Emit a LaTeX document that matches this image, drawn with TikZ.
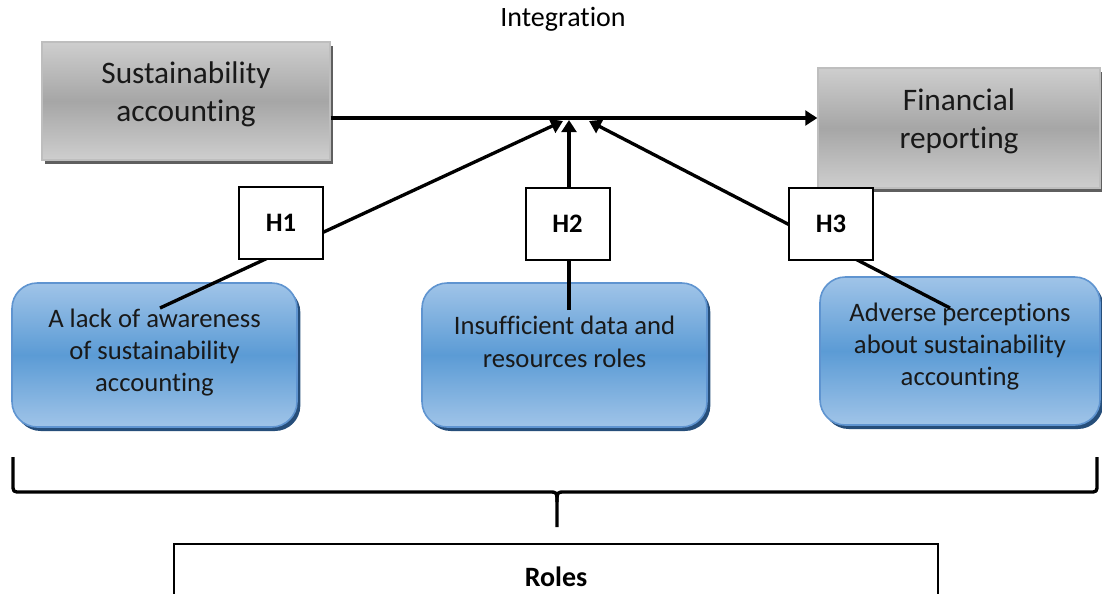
\documentclass[tikz,border=0pt]{standalone}
\usepackage{fontspec}
\setmainfont{Carlito}[RawFeature={-liga;-clig;-calt}]
\usepackage{xcolor}
\definecolor{boxgrey}{RGB}{166,166,166}
\definecolor{lightgrey}{RGB}{206,206,206}
\definecolor{edgegrey}{RGB}{190,190,190}
\definecolor{shadowgrey}{RGB}{95,95,95}
\definecolor{mainblue}{RGB}{91,155,213}
\definecolor{lightblue}{RGB}{160,196,232}
\definecolor{edgeblue}{RGB}{95,148,208}
\definecolor{darkblue}{RGB}{38,78,122}
\usepackage{tikz}
\usetikzlibrary{arrows.meta,shadows}

\begin{document}
\begin{tikzpicture}[x=0.75pt, y=-0.75pt,
    greybox/.style={rectangle, draw=edgegrey, line width=1pt,
                 top color=lightgrey, bottom color=lightgrey, middle color=boxgrey,
                 general shadow={fill=shadowgrey, shadow xshift=2.5pt, shadow yshift=-3pt},
                 inner sep=0pt, align=center, text=black!90, text depth=14pt,
                 font=\fontsize{23.5}{28.5}\selectfont},
    rolebox/.style={rectangle, draw=edgeblue, line width=1.2pt, rounded corners=19pt,
                 top color=lightblue, bottom color=lightblue, middle color=mainblue,
                 general shadow={fill=darkblue, shadow xshift=2.5pt, shadow yshift=-3pt},
                 minimum width=213.75pt, minimum height=108pt,
                 inner sep=0pt, align=center, text=black!90,
                 font=\fontsize{20}{24.2}\selectfont},
    hbox/.style={rectangle, draw=black, line width=1.5pt, fill=white,
                 minimum width=63pt, minimum height=54pt, inner sep=0pt,
                 font=\fontsize{20}{24}\selectfont\bfseries},
    arr/.style={-{Triangle[length=9pt, width=11pt]}, line width=2.5pt},
  ]
    \useasboundingbox (0,0) rectangle (1102,593);

    \node[font=\fontsize{21}{25}\selectfont] (intg) at (563,19) {Integration};

    \node[greybox, minimum width=216pt, minimum height=88.5pt] (sa) at (186,101)
        {Sustainability\\accounting};
    \node[greybox, minimum width=211.5pt, minimum height=90pt] (fr) at (959,128)
        {Financial\\reporting};

    \node[rolebox, text depth=7pt] (aware) at (154.5,355)
        {A lack of awareness\\of sustainability\\accounting};
    \node[rolebox, text depth=20pt] (data) at (564.5,355)
        {Insufficient data and\\resources roles};
    \node[rolebox, minimum width=210pt, minimum height=111pt, text depth=10pt] (percep) at (960,351)
        {Adverse perceptions\\about sustainability\\accounting};

    \coordinate (mid) at (563,118);
    \coordinate (s1) at (160,308);
    \coordinate (s2) at (569,310);
    \coordinate (s3) at (950,308);
    \coordinate (t1) at (563,121);
    \coordinate (t2) at (569,120);
    \coordinate (t3) at (589,121);

    \draw[arr] (sa.east |- mid) -- (fr.west |- mid);
    \draw[arr] (s1) -- (t1);
    \draw[arr] (s2) -- (t2);
    \draw[arr] (s3) -- (t3);

    \node[hbox] (h1) at (281,223) {H1};
    \node[hbox] (h2) at (567.5,224) {H2};
    \node[hbox] (h3) at (831,224) {H3};

    \draw[line width=2.5pt, line join=round]
        (13,457) -- (13,484) .. controls (13,492) .. (21,492) -- (549,492)
        .. controls (557,492) .. (557,502) -- (557,527);
    \draw[line width=2.5pt, line join=round]
        (1097,457) -- (1097,484) .. controls (1097,492) .. (1089,492) -- (565,492)
        .. controls (557,492) .. (557,502);

    \node[rectangle, draw=black, line width=1.2pt, minimum width=573pt, minimum height=49.5pt,
          inner sep=0pt, font=\fontsize{21}{25}\selectfont\bfseries] (roles) at (556,577) {Roles};
  \end{tikzpicture}
\end{document}
